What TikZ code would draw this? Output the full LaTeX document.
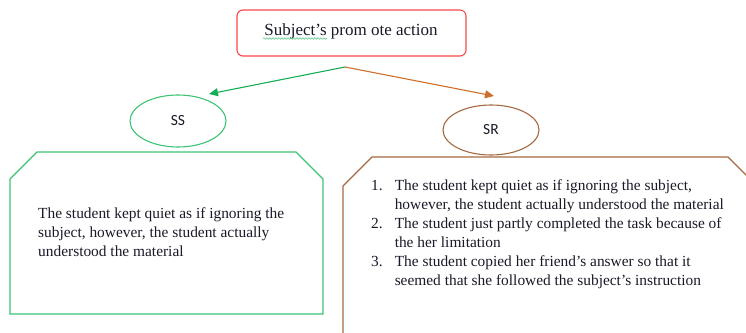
\documentclass[tikz,border=0pt]{standalone}
\usepackage{fontspec}
\setmainfont{Liberation Serif}
\newfontfamily\labfont{Carlito}
\usetikzlibrary{arrows.meta,decorations.pathmorphing}
\definecolor{redline}{RGB}{250,70,70}
\definecolor{greenline}{RGB}{60,195,115}
\definecolor{greenarrow}{RGB}{20,175,85}
\definecolor{brownline}{RGB}{165,105,65}
\definecolor{orangearrow}{RGB}{205,110,45}
\definecolor{txt}{RGB}{25,25,40}
\tikzset{
  body/.style={font=\fontsize{15.4}{19}\selectfont, text=txt, inner sep=0pt},
  lab/.style={font=\labfont\fontsize{15.5}{18}\selectfont, text=txt},
  arr/.style={line width=1.1pt, -{Triangle[length=9pt,width=8pt]}},
}
\begin{document}
\begin{tikzpicture}[x=1pt,y=-1pt]
\useasboundingbox (0,0) rectangle (746,332);
\clip (0,0) rectangle (746,332);
% top box
\node[draw=redline, line width=1.1pt, rounded corners=6pt, minimum width=229pt, minimum height=46pt] (top) at (351.5,33) {};
\node[anchor=base, font=\fontsize{17}{20}\selectfont, text=txt, inner sep=0pt] (toptext) at (351,35.5) {Subject’s prom ote action};
\draw[greenarrow!70, line width=0.6pt, decorate, decoration={snake, amplitude=0.8pt, segment length=3pt}]
  (263,38.5) -- (327,38.5);
% arrows
\coordinate (split) at (345,67);
\coordinate (ssend) at (209,94);
\coordinate (srend) at (494,96);
\draw[arr, greenarrow] (split) -- (ssend);
\draw[arr, orangearrow] (split) -- (srend);
% ellipses
\draw[greenline, line width=1.1pt] (178,121) ellipse [x radius=48, y radius=26];
\node[lab] (ss) at (178,121) {SS};
\draw[brownline, line width=1.1pt] (491,130) ellipse [x radius=48, y radius=25];
\node[lab] (sr) at (491,130) {SR};
% SS box
\draw[greenline, line width=1.3pt] (10,314) -- (10,179) -- (37,152) -- (296,152) -- (323,179) -- (323,314) -- cycle;
\node[body, anchor=base west] (sstext) at (38,218) {%
\begin{tabular}[t]{@{}l@{}}
The student kept quiet as if ignoring the\\
subject, however, the student actually\\
understood the material
\end{tabular}};
% SR box
\draw[brownline, line width=1.3pt] (343,340) -- (343,186) -- (372,157) -- (728,157) -- (760,189);
\node[body, anchor=base west] (srtext) at (371,190) {%
\begin{tabular}[t]{@{}l@{\hspace{12pt}}l@{}}
1. & The student kept quiet as if ignoring the subject,\\
   & however, the student actually understood the material\\
2. & The student just partly completed the task because of\\
   & the her limitation\\
3. & The student copied her friend’s answer so that it\\
   & seemed that she followed the subject’s instruction
\end{tabular}};
\end{tikzpicture}
\end{document}
